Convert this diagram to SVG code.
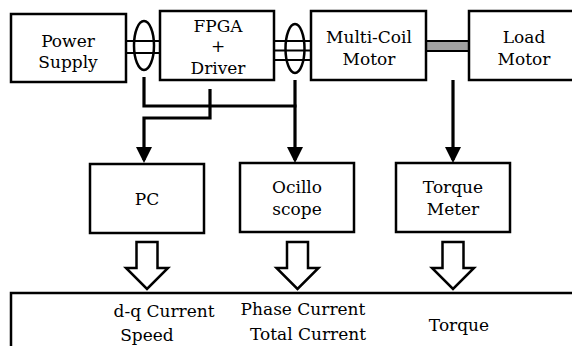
<svg xmlns="http://www.w3.org/2000/svg" width="572" height="346" viewBox="0 0 572 346">
<style>
.box{fill:#fff;stroke:#000;stroke-width:2.5}
.wire{stroke:#000;stroke-width:2;fill:none}
.coil{fill:none;stroke:#000;stroke-width:2.5}
.conn{fill:none;stroke:#000;stroke-width:3.2}
.hollow{fill:#fff;stroke:#000;stroke-width:2.5;stroke-linejoin:miter}
.t{font-family:"DejaVu Serif","Liberation Serif","Noto Serif",serif;font-size:17px;fill:#000;text-anchor:middle}
</style>
<defs>
<marker id="ah" markerUnits="userSpaceOnUse" markerWidth="16" markerHeight="16" viewBox="0 0 16 16" refX="13" refY="8" orient="auto">
<path d="M0,0 L16,8 L0,16 z" fill="#000"/>
</marker>
<path id="hollow" class="hollow" d="M-10.5,0 H10.5 V26 H21 L0,47 L-21,26 H-10.5 Z"/>
</defs>
<rect width="572" height="346" fill="#fff"/>

<g id="cables">
<line class="wire" x1="126" y1="41" x2="160" y2="41"/>
<line class="wire" x1="126" y1="53" x2="160" y2="53"/>
<ellipse class="coil" cx="144" cy="45.5" rx="10" ry="24.5"/>
<line class="wire" x1="274" y1="41" x2="311" y2="41"/>
<line class="wire" x1="274" y1="50.5" x2="311" y2="50.5"/>
<line class="wire" x1="274" y1="60" x2="311" y2="60"/>
<ellipse class="coil" cx="295" cy="48.5" rx="9.5" ry="24.5"/>
<rect x="426" y="41" width="44" height="10" fill="#a0a0a0" stroke="#000" stroke-width="2"/>
</g>

<g id="power-supply">
<rect class="box" x="11" y="14" width="115" height="68"/>
<text class="t" x="68" y="47">Power</text>
<text class="t" x="68" y="68">Supply</text>
</g>

<g id="fpga-driver">
<rect class="box" x="160" y="11" width="114" height="69"/>
<text class="t" x="218" y="32">FPGA</text>
<text class="t" x="218" y="52">+</text>
<text class="t" x="218" y="74">Driver</text>
</g>

<g id="multi-coil-motor">
<rect class="box" x="311" y="11" width="115" height="69"/>
<text class="t" x="369" y="43">Multi-Coil</text>
<text class="t" x="369" y="65">Motor</text>
</g>

<g id="load-motor">
<rect class="box" x="469" y="11" width="110" height="69"/>
<text class="t" x="524" y="43">Load</text>
<text class="t" x="524" y="65">Motor</text>
</g>

<g id="pc">
<rect class="box" x="90" y="164" width="114" height="69"/>
<text class="t" x="147" y="205">PC</text>
</g>

<g id="oscilloscope">
<rect class="box" x="240" y="163" width="114" height="69"/>
<text class="t" x="297" y="193">Ocillo</text>
<text class="t" x="297" y="215">scope</text>
</g>

<g id="torque-meter">
<rect class="box" x="396" y="163" width="114" height="69"/>
<text class="t" x="453" y="193">Torque</text>
<text class="t" x="453" y="215">Meter</text>
</g>

<g id="connectors">
<path class="conn" d="M144,77 V106 H296.5"/>
<path class="conn" d="M210,89 V118 H144 V160" marker-end="url(#ah)"/>
<path class="conn" d="M295,80 V160" marker-end="url(#ah)"/>
<path class="conn" d="M453,80 V160" marker-end="url(#ah)"/>
<use href="#hollow" x="147" y="242"/>
<use href="#hollow" x="297.5" y="242"/>
<use href="#hollow" x="453" y="242"/>
</g>

<g id="results">
<rect class="box" x="11" y="293" width="580" height="80"/>
<text class="t" x="164" y="317">d-q Current</text>
<text class="t" x="147" y="341">Speed</text>
<text class="t" x="303" y="315">Phase Current</text>
<text class="t" x="308" y="340">Total Current</text>
<text class="t" x="459" y="331">Torque</text>
</g>
</svg>
